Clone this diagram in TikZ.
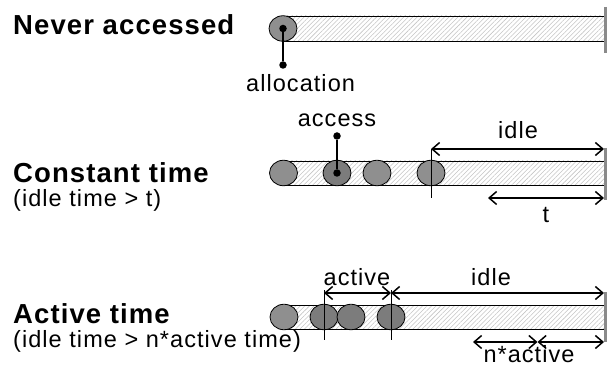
\documentclass[tikz,border=0pt]{standalone}
\usepackage{fontspec}
\usetikzlibrary{arrows.meta,shapes.geometric,patterns.meta}
\newfontfamily\labelfont{Liberation Sans}[LetterSpace=4.5]
\newfontfamily\headfont{Liberation Sans}[LetterSpace=4]
\definecolor{blobgray}{HTML}{8F8F8F}
\definecolor{blobdark}{HTML}{7C7C7C}
\definecolor{endgray}{HTML}{8A8A8A}
\definecolor{hatchgray}{HTML}{C4C4C4}
\tikzset{
  bar/.style={draw=black, line width=0.8pt,
    pattern={Lines[angle=45,distance=3.2pt,line width=0.55pt]}, pattern color=hatchgray},
  blob/.style={ellipse, draw=black, line width=0.8pt, fill=blobgray,
    minimum width=28pt, minimum height=25.5pt, inner sep=0pt},
  hotblob/.style={blob, fill=blobdark},
  dot/.style={circle, fill=black, inner sep=0pt, minimum size=7.5pt},
  stem/.style={line width=1.8pt},
  endmark/.style={line width=3pt, draw=endgray},
  span/.style={{Straight Barb[length=7.5pt,width=13pt,line width=1.5pt]}-{Straight Barb[length=7.5pt,width=13pt,line width=1.5pt]}, line width=1.5pt},
  tick/.style={line width=0.8pt},
  lbl/.style={font=\labelfont\fontsize{23.5}{27}\selectfont, inner sep=0pt, anchor=base},
  sublbl/.style={lbl, anchor=base west},
  head/.style={font=\headfont\bfseries\fontsize{27.5}{31}\selectfont, inner sep=0pt, anchor=base west}
}
\begin{document}
\begin{tikzpicture}[x=1pt,y=-1pt]
\useasboundingbox (0,0) rectangle (610,371);

% ---- row 1: never accessed
\node[head] (h1) at (13,35) {Never accessed};
\draw[bar] (283,16) rectangle (604,41);
\draw[endmark] (605,7) coordinate (e1a) -- (605,53) coordinate (e1b);
\node[blob] (b11) at (283,28.5) {};
\node[dot] (d1) at (b11.center) {};
\node[dot] (d1b) at (283,65) {};
\draw[stem] (d1) -- (d1b);
\node[sublbl] (alloc) at (246,92) {allocation};

% ---- row 2: constant time
\node[head] (h2) at (13,183) {Constant time};
\node[sublbl] (s2) at (13,207) {(idle time > t)};
\draw[bar] (283,161) rectangle (604,185);
\draw[endmark] (605,148) -- (605,200);
\node[blob] (b21) at (283.5,173) {};
\node[hotblob] (b22) at (337,173) {};
\node[blob] (b23) at (377,173) {};
\node[blob] (b24) at (431,173) {};
\node[dot] (d2) at (b22.center) {};
\node[dot] (d2b) at (337,136) {};
\draw[stem] (d2) -- (d2b);
\node[lbl] (acc) at (337,127) {access};
\coordinate (t2a) at (431,149);
\coordinate (t2b) at (431,198);
\draw[tick] (t2a) -- (t2b);
\coordinate (i2end) at (604,149);
\draw[span] (t2a) -- (i2end);
\node[lbl] (idle2) at (518,139) {idle};
\coordinate (tstart) at (488,198);
\coordinate (tend) at (604,198);
\draw[span] (tstart) -- (tend);
\node[lbl] (tl) at (546,223) {t};

% ---- row 3: active time
\node[head] (h3) at (13,323) {Active time};
\node[sublbl] (s3) at (13,347) {(idle time > n*active time)};
\draw[bar] (284,305) rectangle (604,329);
\draw[endmark] (605,292) -- (605,342);
\node[blob] (b31) at (284,317) {};
\node[hotblob] (b32) at (324,317) {};
\node[hotblob] (b33) at (351,317) {};
\node[hotblob] (b34) at (391,317) {};
\coordinate (k1a) at (324,290);
\coordinate (k1b) at (324,340);
\coordinate (k2a) at (391,290);
\coordinate (k2b) at (391,340);
\draw[tick] (k1a) -- (k1b);
\draw[tick] (k2a) -- (k2b);
\coordinate (a1) at (324,293);
\coordinate (a2) at (391,293);
\coordinate (a3) at (604,293);
\draw[span] (a1) -- (a2);
\draw[span] (a2) -- (a3);
\node[lbl] (act) at (357,285) {active};
\node[lbl] (idle3) at (491,285) {idle};
\coordinate (n1) at (473,342);
\coordinate (n2) at (537.5,342);
\coordinate (n3) at (604,342);
\draw[span] (n1) -- (n2);
\draw[span] (n2) -- (n3);
\node[lbl] (nact) at (529,362) {n*active};
\end{tikzpicture}
\end{document}
